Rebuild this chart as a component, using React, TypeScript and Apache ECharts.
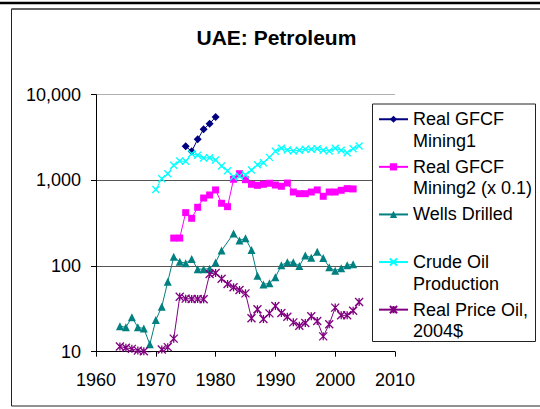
import React, { useEffect, useRef } from 'react';
import * as echarts from 'echarts';

const FONT = 'Liberation Sans, Arial, Helvetica, sans-serif';

const TITLE = 'UAE: Petroleum';
const X_TICKS = [1960, 1970, 1980, 1990, 2000, 2010];
const Y_TICKS = [10, 100, 1000, 10000];

// A blank first line keeps the legend symbol level with the first text line.
const NAME_GFCF1 = ' \nReal GFCF\nMining1';
const NAME_GFCF2 = ' \nReal GFCF\nMining2 (x 0.1)';
const NAME_WELLS = ' \nWells Drilled\n ';
const NAME_CRUDE = ' \nCrude Oil\nProduction';
const NAME_PRICE = ' \nReal Price Oil,\n2004$';

const GFCF1_YEARS = [1975, 1976, 1977, 1978, 1979, 1980];
const GFCF1 = [2500, 2180, 3010, 3950, 4580, 5500];

const GFCF2_YEARS = [1973, 1974, 1975, 1976, 1977, 1978, 1979, 1980, 1981, 1982, 1983, 1984, 1985, 1986, 1987, 1988, 1989, 1990, 1991, 1992, 1993, 1994, 1995, 1996, 1997, 1998, 1999, 2000, 2001, 2002, 2003];
const GFCF2 = [212, 212, 420, 361, 485, 622, 675, 773, 540, 493, 1030, 1196, 1019, 900, 875, 900, 925, 883, 853, 931, 731, 699, 699, 731, 773, 652, 731, 731, 766, 800, 794];

const WELLS_YEARS = [1964, 1965, 1966, 1967, 1968, 1969, 1970, 1971, 1972, 1973, 1974, 1975, 1976, 1977, 1978, 1979, 1980, 1981, 1982, 1983, 1984, 1985, 1986, 1987, 1988, 1989, 1990, 1991, 1992, 1993, 1994, 1995, 1996, 1997, 1998, 1999, 2000, 2001, 2002, 2003];
const WELLS = [19.8, 19.3, 25.2, 19.3, 18.6, 12.2, 23.4, 33.5, 65.6, 128, 112, 108, 121, 92, 92, 93, 110, 152, null, 239, 199, 211, 154, 77, 61, 63, 74, 102, 111, 111, 100, 133, 125, 147, 124, 97, 88, 94, 102, 105];

const CRUDE_YEARS = [1970, 1971, 1972, 1973, 1974, 1975, 1976, 1977, 1978, 1979, 1980, 1981, 1982, 1983, 1984, 1985, 1986, 1987, 1988, 1989, 1990, 1991, 1992, 1993, 1994, 1995, 1996, 1997, 1998, 1999, 2000, 2001, 2002, 2003, 2004];
const CRUDE = [782, 1046, 1197, 1500, 1682, 1668, 2049, 1960, 1823, 1840, 1730, 1472, 1297, 1104, 1117, 1164, 1322, 1524, 1608, 1857, 2184, 2367, 2262, 2200, 2245, 2305, 2305, 2343, 2245, 2200, 2367, 2245, 2103, 2343, 2518];

const PRICE_YEARS = [1964, 1965, 1966, 1967, 1968, 1969, 1970, 1971, 1972, 1973, 1974, 1975, 1976, 1977, 1978, 1979, 1980, 1981, 1982, 1983, 1984, 1985, 1986, 1987, 1988, 1989, 1990, 1991, 1992, 1993, 1994, 1995, 1996, 1997, 1998, 1999, 2000, 2001, 2002, 2003, 2004];
const PRICE = [11.5, 11.1, 10.8, 10.3, 10.1, 9.7, 9.3, 10.6, 11.3, 14.2, 43.8, 41.6, 41.3, 41.3, 40.9, 80.8, 83, 71.2, 61.7, 56.5, 52.5, 48, 24.6, 31.3, 24.1, 28, 34.1, 28.3, 25.6, 22, 20.1, 21.6, 25.9, 22.8, 15.1, 20.9, 32.7, 26.6, 26.6, 30.1, 38];

const SYM_X = 'path://M0 0L10 10M10 0L0 10';
const SYM_STAR = 'path://M0 0L10 10M10 0L0 10M5 0L5 10';

function pairs(years: number[], vals: (number | null)[]) {
  return years.map((y, i) => [y, vals[i] === null ? '-' : vals[i]]);
}

function lineSeries(name: string, years: number[], vals: (number | null)[], color: string, symbol: string, size: number, stroked: boolean) {
  return {
    type: 'line',
    name,
    data: pairs(years, vals),
    color,
    symbol,
    symbolSize: size,
    showAllSymbol: true,
    connectNulls: true,
    clip: true,
    lineStyle: { color, width: 1 },
    itemStyle: stroked
      ? { color, borderColor: color, borderWidth: 1.3 }
      : { color, borderWidth: 0 },
    emphasis: { disabled: true },
  };
}

export default function App() {
  const ref = useRef<HTMLDivElement>(null);
  useEffect(() => {
    if (!ref.current) return;
    const chart = echarts.init(ref.current, undefined, { renderer: 'svg' });
    chart.setOption({
      animation: false,
      backgroundColor: '#fff',
      textStyle: { fontFamily: FONT },
      title: {
        text: TITLE,
        left: 196.5,
        top: 27,
        padding: 0,
        textStyle: { fontFamily: FONT, fontSize: 21, fontWeight: 'bold', color: '#000' },
      },
      graphic: [
        { type: 'line', z: 0, shape: { x1: 0, y1: 3, x2: 540, y2: 3 }, style: { stroke: '#000', lineWidth: 2.5 } },
        { type: 'rect', z: 0, shape: { x: 11.5, y: 9, width: 600, height: 397 }, style: { fill: 'none', stroke: '#222', lineWidth: 1 } },
        { type: 'line', z: 0, shape: { x1: 11.5, y1: 9, x2: 540, y2: 9 }, style: { stroke: '#555', lineWidth: 1.5 } },
        { type: 'rect', z: 5, shape: { x: 372.5, y: 104, width: 163, height: 237.5 }, style: { fill: '#fff', stroke: '#222', lineWidth: 1 } },
      ],
      legend: {
        orient: 'vertical',
        left: 378,
        top: 87,
        padding: 0,
        z: 6,
        itemWidth: 29,
        itemHeight: 9,
        itemGap: -16.9,
        selectedMode: false,
        data: [NAME_GFCF1, NAME_GFCF2, NAME_WELLS, NAME_CRUDE, NAME_PRICE],
        textStyle: { fontFamily: FONT, fontSize: 18, color: '#000', lineHeight: 21.5 },
      },
      grid: { left: 96, right: 145, top: 94.7, bottom: 57.3, containLabel: false },
      xAxis: {
        type: 'value',
        min: X_TICKS[0],
        max: X_TICKS[X_TICKS.length - 1],
        interval: 10,
        splitLine: { show: false },
        axisLine: { lineStyle: { color: '#000', width: 1 } },
        axisTick: { show: true, inside: false, length: 5, lineStyle: { color: '#000' } },
        axisLabel: { fontFamily: FONT, fontSize: 18, color: '#000', margin: 19, formatter: (v: number) => String(v) },
      },
      yAxis: {
        type: 'log',
        logBase: 10,
        min: Y_TICKS[0],
        max: Y_TICKS[Y_TICKS.length - 1],
        axisLine: { show: true, lineStyle: { color: '#000', width: 1 } },
        axisTick: { show: true, inside: false, length: 5, lineStyle: { color: '#000' } },
        splitLine: { show: true, lineStyle: { color: ['#000', '#555', '#555', '#b0b0b0'], width: 1 } },
        axisLabel: { fontFamily: FONT, fontSize: 18, color: '#000', margin: 15, formatter: (v: number) => Math.round(v).toLocaleString('en-US') },
      },
      series: [
        lineSeries(NAME_GFCF1, GFCF1_YEARS, GFCF1, '#000080', 'diamond', 8, false),
        lineSeries(NAME_GFCF2, GFCF2_YEARS, GFCF2, '#FF00FF', 'rect', 7, false),
        lineSeries(NAME_WELLS, WELLS_YEARS, WELLS, '#008080', 'triangle', 8, false),
        lineSeries(NAME_CRUDE, CRUDE_YEARS, CRUDE, '#00FFFF', SYM_X, 7, true),
        lineSeries(NAME_PRICE, PRICE_YEARS, PRICE, '#800080', SYM_STAR, 8, true),
      ],
    });
    return () => chart.dispose();
  }, []);
  return <div ref={ref} style={{ position: 'fixed', left: 0, top: 0, width: 540, height: 409 }} />;
}
